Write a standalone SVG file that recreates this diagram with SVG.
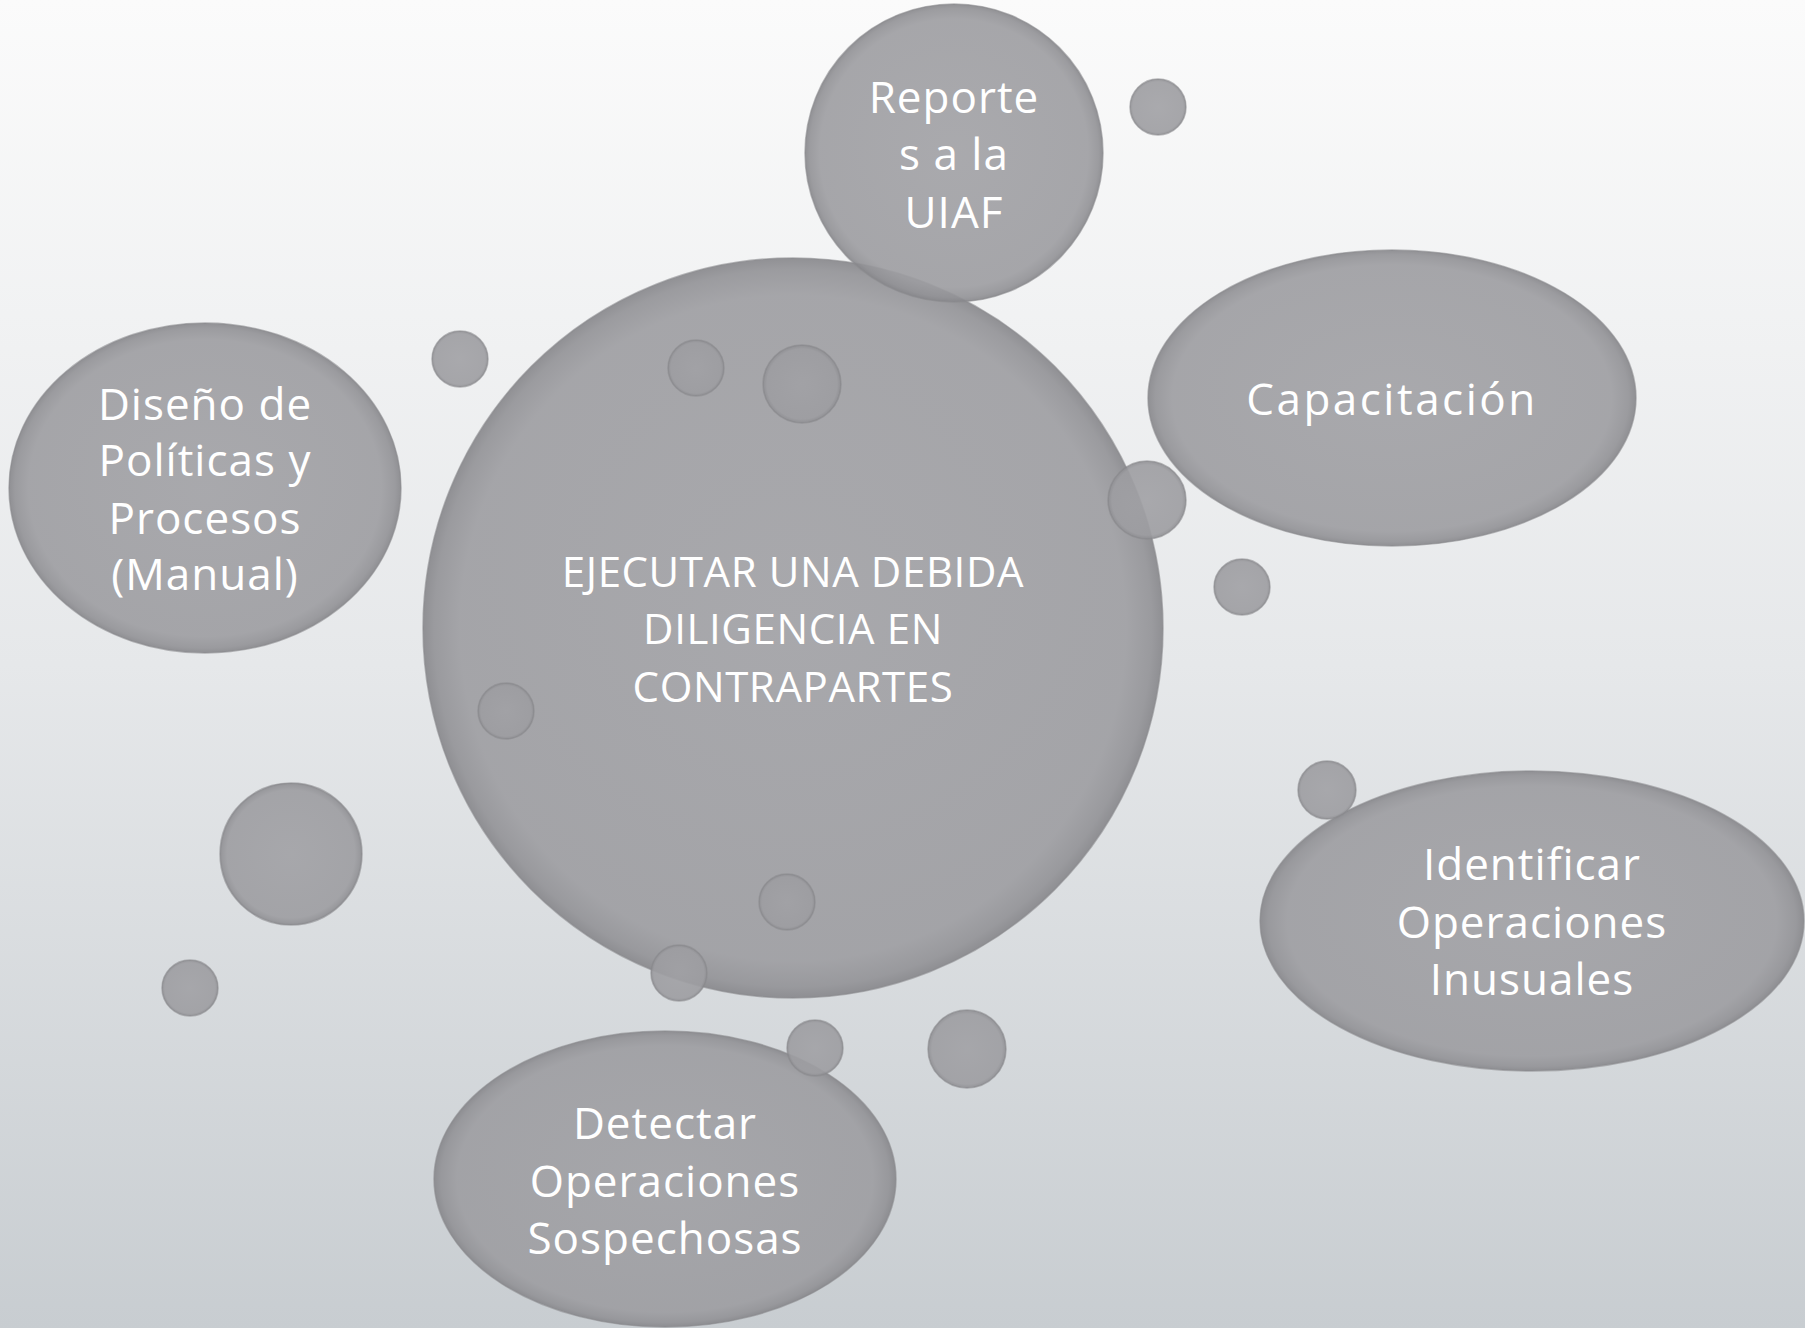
<svg xmlns="http://www.w3.org/2000/svg" width="1805" height="1328" viewBox="0 0 1805 1328">
<defs>
<linearGradient id="bg" x1="0" y1="0" x2="0" y2="1">
<stop offset="0" stop-color="#fbfbfb"/>
<stop offset="0.5" stop-color="#e6e8ea"/>
<stop offset="1" stop-color="#c8cdd1"/>
</linearGradient>
<radialGradient id="bub" cx="0.5" cy="0.5" r="0.5">
<stop offset="0" stop-color="#a1a1a5"/>
<stop offset="0.9" stop-color="#9d9da1"/>
<stop offset="0.97" stop-color="#929296"/>
<stop offset="1" stop-color="#86868a"/>
</radialGradient>
<style>
.b{fill:url(#bub);fill-opacity:0.9;stroke:#8a8a8e;stroke-opacity:0.6;stroke-width:1.5}
.t{fill:#ffffff;font-family:"Open Sans","Noto Sans",sans-serif;font-weight:400;text-anchor:middle;dominant-baseline:central;font-size:44px;letter-spacing:1px}
.c{font-size:42px;letter-spacing:0.6px}
</style>
</defs>
<rect x="0" y="0" width="1805" height="1328" fill="url(#bg)"/>
<g id="connectors"/>
<g id="main">
<circle class="b" cx="793" cy="628" r="370"/>
<text class="t c"><tspan x="793" y="570">EJECUTAR UNA DEBIDA</tspan><tspan x="793" y="627">DILIGENCIA EN</tspan><tspan x="793" y="685">CONTRAPARTES</tspan></text>
</g>
<g id="reportes">
<circle class="b" cx="954" cy="153" r="149"/>
<text class="t"><tspan x="954" y="96">Reporte</tspan><tspan x="954" y="153">s a la</tspan><tspan x="954" y="211">UIAF</tspan></text>
</g>
<g id="capacitacion">
<ellipse class="b" cx="1392" cy="398" rx="244" ry="148"/>
<text class="t" x="1392" y="398" style="letter-spacing:2.5px">Capacitación</text>
</g>
<g id="identificar">
<ellipse class="b" cx="1532" cy="921" rx="272" ry="150"/>
<text class="t"><tspan x="1532" y="863">Identificar</tspan><tspan x="1532" y="921">Operaciones</tspan><tspan x="1532" y="978">Inusuales</tspan></text>
</g>
<g id="detectar">
<ellipse class="b" cx="665" cy="1179" rx="231" ry="148"/>
<text class="t"><tspan x="665" y="1122">Detectar</tspan><tspan x="665" y="1180">Operaciones</tspan><tspan x="665" y="1237">Sospechosas</tspan></text>
</g>
<g id="diseno">
<ellipse class="b" cx="205" cy="488" rx="196" ry="165"/>
<text class="t"><tspan x="205" y="403">Diseño de</tspan><tspan x="205" y="459">Políticas y</tspan><tspan x="205" y="517">Procesos</tspan><tspan x="205" y="573">(Manual)</tspan></text>
</g>
<g id="bubbles">
<circle class="b" cx="1158" cy="107" r="28"/>
<circle class="b" cx="1147" cy="500" r="39"/>
<circle class="b" cx="1242" cy="587" r="28"/>
<circle class="b" cx="1327" cy="790" r="29"/>
<circle class="b" cx="460" cy="359" r="28"/>
<circle class="b" cx="696" cy="368" r="28"/>
<circle class="b" cx="802" cy="384" r="39"/>
<circle class="b" cx="506" cy="711" r="28"/>
<circle class="b" cx="787" cy="902" r="28"/>
<circle class="b" cx="679" cy="973" r="28"/>
<circle class="b" cx="291" cy="854" r="71"/>
<circle class="b" cx="190" cy="988" r="28"/>
<circle class="b" cx="815" cy="1048" r="28"/>
<circle class="b" cx="967" cy="1049" r="39"/>
</g>
</svg>
